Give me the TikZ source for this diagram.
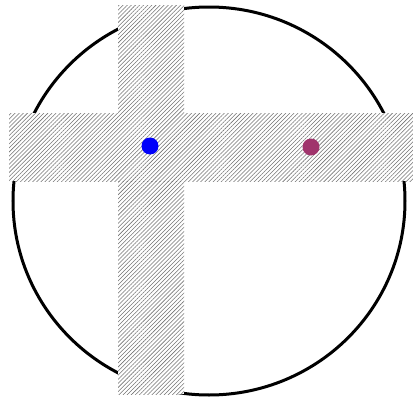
\documentclass[tikz,border=0pt]{standalone}
\usetikzlibrary{patterns.meta}
\definecolor{dotpurple}{RGB}{160,52,108}
\definecolor{dotblue}{RGB}{0,0,250}
\tikzset{
  band/.style={fill=white, postaction={pattern={Lines[angle=45,distance=2.9pt,line width=0.55pt]}, pattern color=black!55}},
  dot/.style={circle, inner sep=0pt, minimum size=17pt}
}
\begin{document}
\begin{tikzpicture}[x=1pt,y=-1pt]
\useasboundingbox (0,0) rectangle (413,399);
\draw[line width=3pt] (209,201) ellipse [x radius=196, y radius=194];
\path[band] (118,5) rectangle (184,394);
\path[band] (9,113) rectangle (413,181);
\node[dot, fill=dotblue] (b) at (150,146) {};
\node[dot, fill=dotpurple] (p) at (311,147) {};
\end{tikzpicture}
\end{document}
